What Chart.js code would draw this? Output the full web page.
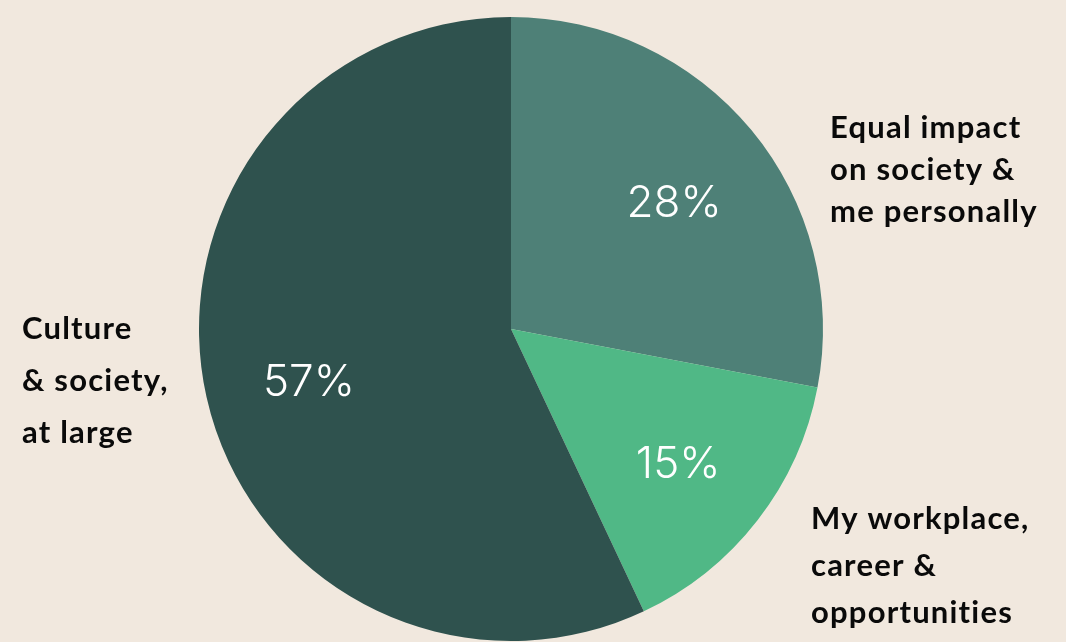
<!DOCTYPE html>
<html>
<head>
<meta charset="utf-8">
<script src="https://cdn.jsdelivr.net/npm/chart.js@4"></script>
<style>
  html, body { margin: 0; padding: 0; background: #F1E8DE; }
  #wrap { width: 1066px; height: 642px; }
</style>
</head>
<body>
<div id="wrap"><canvas id="pie" width="1066" height="642"></canvas></div>
<script>
// Share of respondents by where they feel the impact most
const categories = [
  "Equal impact on society & me personally",
  "My workplace, career & opportunities",
  "Culture & society, at large"
];
const shares = [28, 15, 57];
const sliceColors = ["#4E8077", "#50B886", "#2F524E"];

// Multi-line captions drawn beside the pie
const captionLines = [
  ["Equal impact", "on society &", "me personally"],
  ["My workplace,", "career &", "opportunities"],
  ["Culture", "& society,", "at large"]
];

// Percent labels inside each slice
const sliceLabels = {
  id: "sliceLabels",
  afterDatasetsDraw(chart) {
    const ctx = chart.ctx;
    const meta = chart.getDatasetMeta(0);
    ctx.save();
    ctx.fillStyle = "#FFFFFF";
    ctx.font = "300 44px Inter";
    ctx.textAlign = "center";
    ctx.textBaseline = "middle";
    meta.data.forEach((arc, i) => {
      const p = arc.getProps(["x", "y", "startAngle", "endAngle", "outerRadius"], true);
      const mid = (p.startAngle + p.endAngle) / 2;
      const r = p.outerRadius * 0.67;
      const x = p.x + Math.cos(mid) * r + 2;
      const y = p.y + Math.sin(mid) * r + 8;
      ctx.fillText(shares[i] + "%", x, y);
    });
    ctx.restore();
  }
};

// Category captions placed outside the pie
const captions = {
  id: "captions",
  afterDraw(chart) {
    const ctx = chart.ctx;
    const spots = [
      { x: 830, y: 128, lh: 42 },
      { x: 811, y: 519, lh: 47 },
      { x: 22,  y: 329, lh: 52 }
    ];
    ctx.save();
    ctx.fillStyle = "#0A0A0A";
    ctx.font = "bold 31px Lato";
    ctx.letterSpacing = "1.2px";
    ctx.fontVariantLigatures = "none";
    ctx.textAlign = "left";
    ctx.textBaseline = "middle";
    captionLines.forEach((lines, i) => {
      const s = spots[i];
      lines.forEach((t, j) => ctx.fillText(t, s.x, s.y + j * s.lh));
    });
    ctx.restore();
  }
};

new Chart(document.getElementById("pie"), {
  type: "pie",
  data: {
    labels: categories,
    datasets: [{
      data: shares,
      backgroundColor: sliceColors,
      borderWidth: 0
    }]
  },
  options: {
    responsive: false,
    animation: false,
    layout: { padding: { left: 199, right: 243, top: 17, bottom: 1 } },
    plugins: {
      legend: { display: false },
      tooltip: { enabled: false }
    }
  },
  plugins: [sliceLabels, captions]
});
</script>
</body>
</html>
